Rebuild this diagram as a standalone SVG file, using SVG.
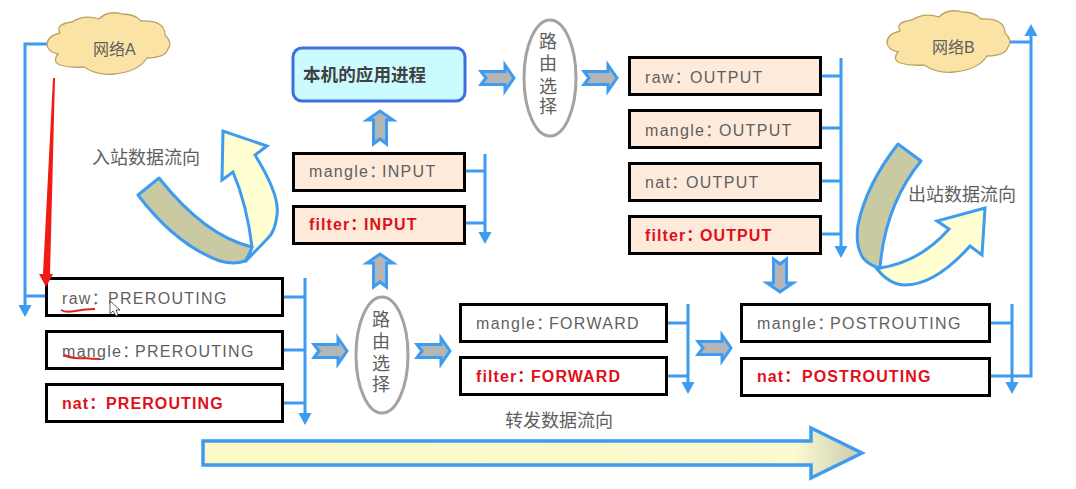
<svg xmlns="http://www.w3.org/2000/svg" xmlns:xlink="http://www.w3.org/1999/xlink" width="1076" height="489" viewBox="0 0 1076 489">
  <style>
    .box { stroke: #000; stroke-width: 3; }
    .plain { fill: #fff; }
    .peach { fill: #fdeadb; }
    text { font-family: "Liberation Sans", "Noto Sans CJK SC", sans-serif; font-size: 16px; fill: #5f5f5f; }
    .chain { letter-spacing: 1.3px; }
    .hot { fill: #e0101a; font-weight: bold; letter-spacing: 1.1px; }
    .zh { font-size: 18px; }
    .route { font-size: 18px; text-anchor: middle; }
    .wire { fill: none; stroke: #3d9bf0; stroke-width: 3; }
    .tip { fill: #3d9bf0; }
    .flow { fill: #b5b5b5; stroke: #3d9bf0; stroke-width: 3; }
    .oval { fill: #fff; stroke: #a3a3a3; stroke-width: 3; }
    .cloud { fill: #fbe3a5; stroke: #b9a463; stroke-width: 1.3; }
    .band { fill: #c9c9a2; stroke: #3d9bf0; stroke-width: 3; stroke-linejoin: round; }
    .sweep { fill: #ffffd2; stroke: #3d9bf0; stroke-width: 3; stroke-linejoin: miter; }
  </style>
  <defs>
    <linearGradient id="bar" x1="0" y1="0" x2="1" y2="0">
      <stop offset="0" stop-color="#fdf9c6"/>
      <stop offset="0.9" stop-color="#fbfad0"/>
      <stop offset="1" stop-color="#c9c9b0"/>
    </linearGradient>
    <path id="cloudShape" class="cloud" d="M47,45 Q47,36 60,33 Q55,24 72,22 Q84,14 99,19 Q108,10 122,14 Q135,14 141,21 Q165,20 165,35 Q173,43 168,49 Q165,58 147,58 Q138,72 114,74 Q98,76 84,67 Q70,68 60,65 Q52,62 58,54 Q48,52 47,45Z"/>
    <path id="flowArrow" class="flow" d="M1,-6.500 L25,-6.500 L25,-13 L34,0 L25,13 L25,6.500 L1,6.500 L6,0Z"/>
    <path id="busTip" class="tip" d="M-6.500,-12 L6.500,-12 L0,0Z"/>
  </defs>

  <!-- wiring: trunk lines with their stubs and arrowheads -->
  <g id="connectors">
    <path class="wire" d="M47,44 H25 V306 M25,296 H46"/>
    <use href="#busTip" x="25" y="317"/>
    <path class="wire" d="M283,297 H305 M283,350 H305 M283,403 H305 M305,278 V415"/>
    <use href="#busTip" x="305" y="425"/>
    <path class="wire" d="M465,171 H485 M465,223 H485 M485,154 V234"/>
    <use href="#busTip" x="485" y="244"/>
    <path class="wire" d="M821,76 H841 M821,128 H841 M821,181 H841 M821,234 H841 M841,58 V248"/>
    <use href="#busTip" x="841" y="258"/>
    <path class="wire" d="M667,323 H688 M667,376 H688 M688,304 V384"/>
    <use href="#busTip" x="688" y="394"/>
    <path class="wire" d="M990,323 H1012 M1012,304 V384"/>
    <use href="#busTip" x="1012" y="394"/>
    <path class="wire" d="M990,376 H1031 V34 M1010,42 H1031"/>
    <use href="#busTip" transform="translate(1031,24) rotate(180)"/>
    <use href="#flowArrow" transform="translate(313,351)"/>
    <use href="#flowArrow" transform="translate(416,351)"/>
    <use href="#flowArrow" transform="translate(697,348)"/>
    <use href="#flowArrow" transform="translate(480,78)"/>
    <use href="#flowArrow" transform="translate(583,78)"/>
    <use href="#flowArrow" transform="translate(380,145) rotate(-90)"/>
    <use href="#flowArrow" transform="translate(380,288) rotate(-90)"/>
    <use href="#flowArrow" transform="translate(780,258) rotate(90)"/>
  </g>

  <g id="network-a">
    <use href="#cloudShape"/>
    <text x="93" y="55">网络A</text>
  </g>
  <g id="network-b">
    <use href="#cloudShape" x="840" y="-2"/>
    <text x="932" y="53">网络B</text>
  </g>

  <g id="inbound-flow">
    <path class="sweep" d="M252,247 Q247,205 233,172 L222,180 L223,131 L267,146 L255,155 Q280,195 277,215 Q275,232 268,238 L245,262Z"/>
    <path class="band" d="M138,195 L159,178 Q205,236 252,247 Q249,256 245,261 Q234,265 220,261 Q176,245 138,195Z"/>
    <text class="zh" x="92" y="164">入站数据流向</text>
  </g>
  <g id="outbound-flow">
    <path class="sweep" d="M880,268 Q920,262 949,229 L937,221 L985,208 L982,255 L970,246 Q935,285 905,285 Q890,285 877,269Z"/>
    <path class="band" d="M898,144 L921,161 Q885,205 880,268 Q870,266 863,258 Q855,245 858,225 Q866,185 898,144Z"/>
    <text class="zh" x="908" y="201">出站数据流向</text>
  </g>
  <g id="forward-flow">
    <path d="M203,441 H811 V428 L862,453 L811,478 V465 H203Z" fill="url(#bar)" stroke="#3d9bf0" stroke-width="3.500"/>
    <text class="zh" x="505" y="427">转发数据流向</text>
  </g>

  <g id="local-process">
    <rect x="293" y="48" width="172" height="53" rx="9" fill="#ccfbff" stroke="#3f6fe0" stroke-width="3"/>
    <text x="303" y="81" font-weight="bold" style="font-size:17.600px;fill:#404040">本机的应用进程</text>
  </g>

  <g id="route-upper">
    <ellipse class="oval" cx="550" cy="78" rx="26" ry="58"/>
    <text class="route" x="548" y="48">路</text>
    <text class="route" x="548" y="70">由</text>
    <text class="route" x="548" y="93">选</text>
    <text class="route" x="548" y="113">择</text>
  </g>
  <g id="route-lower">
    <ellipse class="oval" cx="382" cy="355" rx="26" ry="58"/>
    <text class="route" x="381" y="326">路</text>
    <text class="route" x="381" y="348">由</text>
    <text class="route" x="381" y="370">选</text>
    <text class="route" x="381" y="391">择</text>
  </g>

  <g id="raw-prerouting">
    <rect class="box plain" x="46.500" y="278.500" width="236" height="37"/>
    <text class="chain" x="62" y="304">raw：<tspan x="108">PREROUTING</tspan></text>
  </g>
  <g id="mangle-prerouting">
    <rect class="box plain" x="46.500" y="331.500" width="236" height="37"/>
    <text class="chain" x="62" y="357">mangle：<tspan x="135">PREROUTING</tspan></text>
  </g>
  <g id="nat-prerouting">
    <rect class="box plain" x="46.500" y="384.500" width="236" height="37"/>
    <text class="hot" x="62" y="409">nat：<tspan x="106">PREROUTING</tspan></text>
  </g>

  <g id="mangle-input">
    <rect class="box peach" x="293.500" y="153.500" width="171" height="37"/>
    <text class="chain" x="309" y="177">mangle：<tspan x="382">INPUT</tspan></text>
  </g>
  <g id="filter-input">
    <rect class="box peach" x="293.500" y="206.500" width="171" height="37"/>
    <text class="hot" x="309" y="230">filter：<tspan x="364">INPUT</tspan></text>
  </g>

  <g id="raw-output">
    <rect class="box peach" x="629.500" y="57.500" width="191" height="37"/>
    <text class="chain" x="645" y="83">raw：<tspan x="690">OUTPUT</tspan></text>
  </g>
  <g id="mangle-output">
    <rect class="box peach" x="629.500" y="110.500" width="191" height="37"/>
    <text class="chain" x="645" y="136">mangle：<tspan x="719">OUTPUT</tspan></text>
  </g>
  <g id="nat-output">
    <rect class="box peach" x="629.500" y="163.500" width="191" height="37"/>
    <text class="chain" x="645" y="188">nat：<tspan x="686">OUTPUT</tspan></text>
  </g>
  <g id="filter-output">
    <rect class="box peach" x="629.500" y="216.500" width="191" height="37"/>
    <text class="hot" x="645" y="241">filter：<tspan x="700">OUTPUT</tspan></text>
  </g>

  <g id="mangle-forward">
    <rect class="box plain" x="460.500" y="304.500" width="206" height="37"/>
    <text class="chain" x="476" y="329">mangle：<tspan x="549">FORWARD</tspan></text>
  </g>
  <g id="filter-forward">
    <rect class="box plain" x="460.500" y="357.500" width="206" height="37"/>
    <text class="hot" x="476" y="382">filter：<tspan x="531">FORWARD</tspan></text>
  </g>

  <g id="mangle-postrouting">
    <rect class="box plain" x="741.500" y="304.500" width="248" height="37"/>
    <text class="chain" x="757" y="329">mangle：<tspan x="830">POSTROUTING</tspan></text>
  </g>
  <g id="nat-postrouting">
    <rect class="box plain" x="741.500" y="358.500" width="248" height="37"/>
    <text class="hot" x="757" y="382">nat：<tspan x="802">POSTROUTING</tspan></text>
  </g>

  <!-- hand annotations over the chart -->
  <g id="annotations">
    <path d="M53,78 L55,78 L50,274 L53,274 L46,287 L39,274 L43,274Z" fill="#f01c14"/>
    <path d="M61,310 Q66,313 75,311 Q86,309 95,309" fill="none" stroke="#e0201a" stroke-width="2"/>
    <path d="M64,355 Q72,359 84,358 Q92,359 100,359" fill="none" stroke="#e0201a" stroke-width="2"/>
    <path d="M110,301 V314 L113,311 L116,316 L118,315 L116,310 L120,310Z" fill="#fff" stroke="#333" stroke-width="0.800"/>
  </g>
</svg>
